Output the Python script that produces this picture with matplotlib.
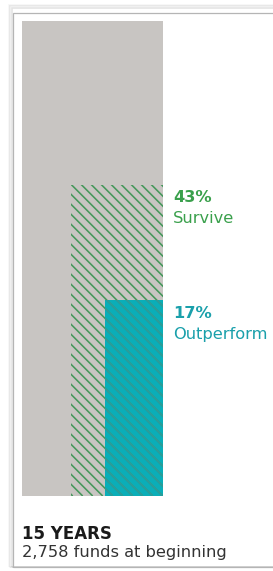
import matplotlib
matplotlib.use("Agg")
import matplotlib.pyplot as plt
from matplotlib.patches import Rectangle
from matplotlib.collections import LineCollection
import numpy as np

# Data (percent of funds at beginning)
categories = ["All funds", "Survive", "Outperform"]
values = [100, 43, 17]
period_label = "15 YEARS"
funds_label = "2,758 funds at beginning"

colors = {"gray": "#c8c5c2", "green": "#45975a", "green_text": "#3aa04c",
          "teal": "#0aaeb8", "teal_line": "#2b9c9f", "teal_text": "#1aa0ab"}

DPI = 60
W, H = 273, 571
plt.rcParams['font.family'] = ['DejaVu Sans']

fig = plt.figure(figsize=(W / DPI, H / DPI), dpi=DPI)
fig.patch.set_facecolor("white")

# frame with a soft shadow
for i, a in enumerate([0.04, 0.07, 0.11]):
    off = (3 - i) * 1.5
    fig.add_artist(Rectangle(((13 - off) / W, 4 / H), 1, (558 + off) / H,
                             transform=fig.transFigure, fill=False,
                             edgecolor="black", alpha=a, lw=2.0))
fig.add_artist(Rectangle((13 / W, 4 / H), 1, 554 / H, transform=fig.transFigure,
                         fill=False, edgecolor="#b5b5b5", lw=1.5))

ax = fig.add_axes([22 / W, (H - 496) / H, 141 / W, 475 / H])
ax.set_xlim(0, 1)
ax.set_ylim(0, 1)
ax.axis("off")

side = [np.sqrt(v / values[0]) for v in values]

# total
ax.add_patch(Rectangle((1 - side[0], 0), side[0], side[0], facecolor=colors["gray"],
                       edgecolor="none"))
# outperform (teal)
teal = Rectangle((1 - side[2], 0), side[2], side[2], facecolor=colors["teal"],
                 edgecolor="none")
ax.add_patch(teal)
# survive hatched region (clip path)
surv = Rectangle((1 - side[1], 0), side[1], side[1], facecolor="none", edgecolor="none")
ax.add_patch(surv)

# diagonal hatch lines at 45 degrees in pixel space, 10 px apart
wp = ax.bbox.width
hp = ax.bbox.height
spacing = 10.0
cs = np.arange(0.7, wp + hp + spacing, spacing)
segs = [[(0, c / hp), (c / wp, 0)] for c in cs]
lc_g = LineCollection(segs, colors=colors["green"], linewidths=1.9,
                      transform=ax.transAxes)
ax.add_collection(lc_g)
lc_g.set_clip_path(surv)
lc_t = LineCollection(segs, colors=colors["teal_line"], linewidths=1.9,
                      transform=ax.transAxes)
ax.add_collection(lc_t)
lc_t.set_clip_path(teal)

lab_kw = dict(xycoords="data", textcoords="offset pixels", ha="left", va="baseline")
fs_lab = 19.5
ax.annotate(f"{values[1]}%", (1, side[1]), xytext=(10, -17.5), color=colors["green_text"],
            fontsize=fs_lab, fontweight="bold", **lab_kw)
ax.annotate(categories[1], (1, side[1]), xytext=(10, -38.5), color=colors["green_text"],
            fontsize=fs_lab, **lab_kw)
ax.annotate(f"{values[2]}%", (1, side[2]), xytext=(10, -17.5), color=colors["teal_text"],
            fontsize=fs_lab, fontweight="bold", **lab_kw)
ax.annotate(categories[2], (1, side[2]), xytext=(10, -39), color=colors["teal_text"],
            fontsize=fs_lab, **lab_kw)

fig.text(22 / W, (H - 539) / H, period_label, fontsize=20, fontweight="bold",
         color="#1a1a1a", ha="left", va="baseline")
fig.text(22 / W, (H - 557) / H, funds_label, fontsize=19.5, color="#333333",
         ha="left", va="baseline")

fig.savefig("out.png", dpi=DPI, facecolor="white")
